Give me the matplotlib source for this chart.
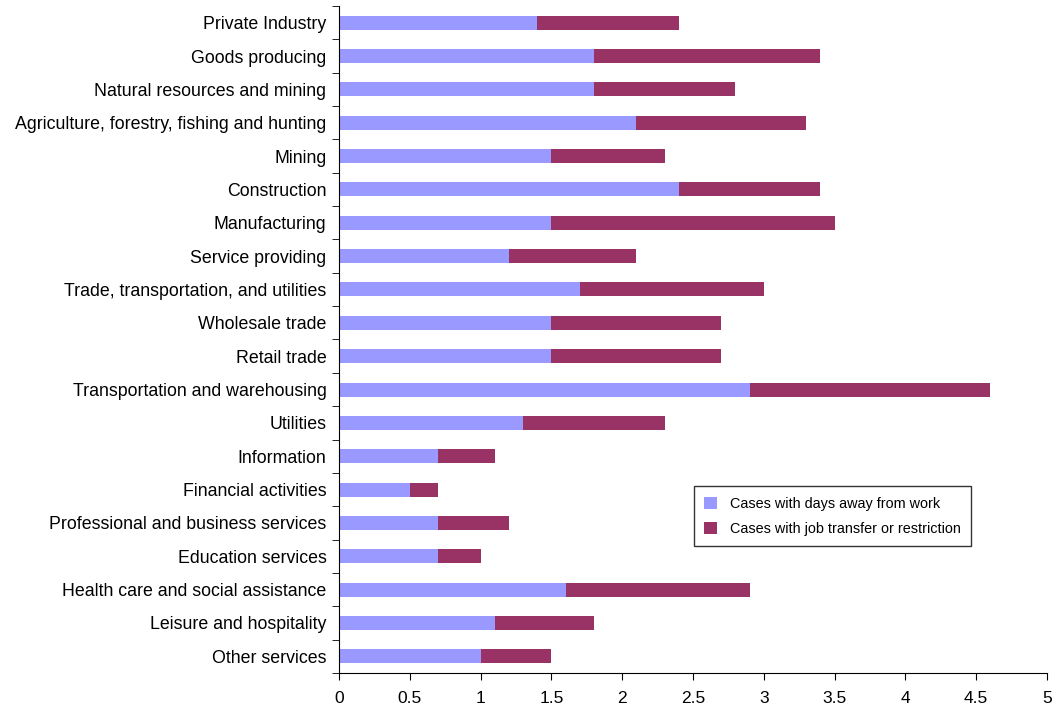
import matplotlib.pyplot as plt
import numpy as np

plt.rcParams['font.family'] = ['Liberation Sans', 'DejaVu Sans']

industries = ['Private Industry', 'Goods producing', 'Natural resources and mining',
              'Agriculture, forestry, fishing and hunting', 'Mining', 'Construction',
              'Manufacturing', 'Service providing', 'Trade, transportation, and utilities',
              'Wholesale trade', 'Retail trade', 'Transportation and warehousing',
              'Utilities', 'Information', 'Financial activities',
              'Professional and business services', 'Education services',
              'Health care and social assistance', 'Leisure and hospitality', 'Other services']
days_away = [1.4, 1.8, 1.8, 2.1, 1.5, 2.4, 1.5, 1.2, 1.7, 1.5, 1.5, 2.9, 1.3, 0.7, 0.5,
             0.7, 0.7, 1.6, 1.1, 1.0]
job_transfer = [1.0, 1.6, 1.0, 1.2, 0.8, 1.0, 2.0, 0.9, 1.3, 1.2, 1.2, 1.7, 1.0, 0.4, 0.2,
                0.5, 0.3, 1.3, 0.7, 0.5]

fig = plt.figure(figsize=(10.54, 7.11), dpi=100)
ax = fig.add_axes([339/1054, 1 - 673/711, 708/1054, 667/711])

y = np.arange(len(industries))
ax.barh(y, days_away, height=0.42, color='#9999FF', label='Cases with days away from work')
ax.barh(y, job_transfer, left=days_away, height=0.42, color='#993366',
        label='Cases with job transfer or restriction')

ax.set_ylim(len(industries) - 0.5, -0.5)
ax.set_xlim(0, 5)
ax.set_yticks(y)
ax.set_yticklabels(industries, fontsize=12.8)
ax.set_yticks(np.arange(-0.5, len(industries)), minor=True)
ax.tick_params(axis='y', which='major', length=0, pad=9)
ax.tick_params(axis='y', which='minor', length=5, direction='out')
ax.set_xticks(np.arange(0, 5.01, 0.5))
ax.set_xticklabels(['0', '0.5', '1', '1.5', '2', '2.5', '3', '3.5', '4', '4.5', '5'])
ax.tick_params(axis='x', length=5, labelsize=12.5, pad=8)
ax.spines['top'].set_visible(False)
ax.spines['right'].set_visible(False)

leg = ax.legend(loc='lower left', bbox_to_anchor=(0.501, 0.19), fontsize=10.4,
                frameon=True, fancybox=False, edgecolor='black', handlelength=0.9,
                handleheight=0.9, borderpad=0.7, labelspacing=0.8, borderaxespad=0,
                handletextpad=0.9)
leg.get_frame().set_linewidth(1.0)

fig.savefig('out.png', dpi=100)
